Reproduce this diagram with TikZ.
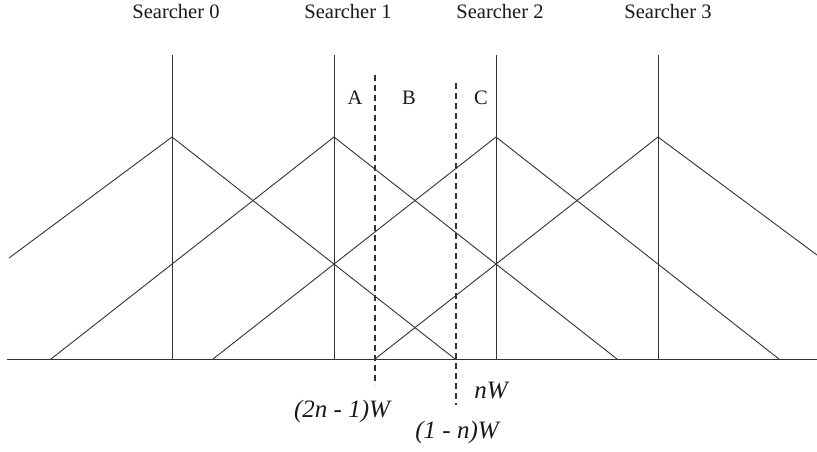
\documentclass[tikz,border=0pt]{standalone}
\usepackage{fontspec}
\setmainfont{Liberation Serif}
\begin{document}
\begin{tikzpicture}[x=1pt,y=-1pt,
  ln/.style={draw=black!80, line width=0.9pt},
  dsh/.style={draw=black!80, line width=1.6pt, dash pattern=on 6pt off 4pt},
  lbl/.style={inner sep=0pt, anchor=base, font=\fontsize{20.5}{22}\selectfont, text=black!90},
  ilbl/.style={inner sep=0pt, anchor=base, font=\fontsize{25}{27}\selectfont\itshape, text=black!90}]
\useasboundingbox (0,0) rectangle (817,451);
\fill[white] (0,0) rectangle (817,451);
% searcher labels
\node[lbl] (s0) at (176,18) {Searcher 0};
\node[lbl] (s1) at (348,18) {Searcher 1};
\node[lbl] (s2) at (500,18) {Searcher 2};
\node[lbl] (s3) at (668,18) {Searcher 3};
% tops, peaks, bases
\foreach \i/\x in {0/172,1/334,2/496,3/658}{
  \coordinate (t\i) at (\x,55);
  \coordinate (p\i) at (\x,137);
  \coordinate (b\i) at (\x,359);
  \coordinate (l\i) at (\x-283,359);
  \coordinate (r\i) at (\x+283,359);
}
\coordinate (l0) at (9,258);
\coordinate (r3) at (817,255);
\coordinate (bl) at (7,359);
\coordinate (br) at (817,359);
% baseline
\draw[ln] (bl) -- (br);
% verticals and triangles
\foreach \i in {0,...,3}{
  \draw[ln] (t\i) -- (b\i);
  \draw[ln] (l\i) -- (p\i) -- (r\i);
}
% dashed lines
\coordinate (d1t) at (375,75);
\coordinate (d1b) at (375,385);
\coordinate (d2t) at (456,83);
\coordinate (d2b) at (456,405);
\draw[dsh] (d1t) -- (d1b);
\draw[dsh] (d2t) -- (d2b);
% region labels
\node[lbl] (A) at (355,104) {A};
\node[lbl] (B) at (409,104) {B};
\node[lbl] (C) at (481,104) {C};
% bottom labels
\node[ilbl] (nw) at (491,398) {nW};
\node[ilbl] (w1) at (342,417) {(2n - 1)W};
\node[ilbl] (w2) at (457,438) {(1 - n)W};
\end{tikzpicture}
\end{document}
